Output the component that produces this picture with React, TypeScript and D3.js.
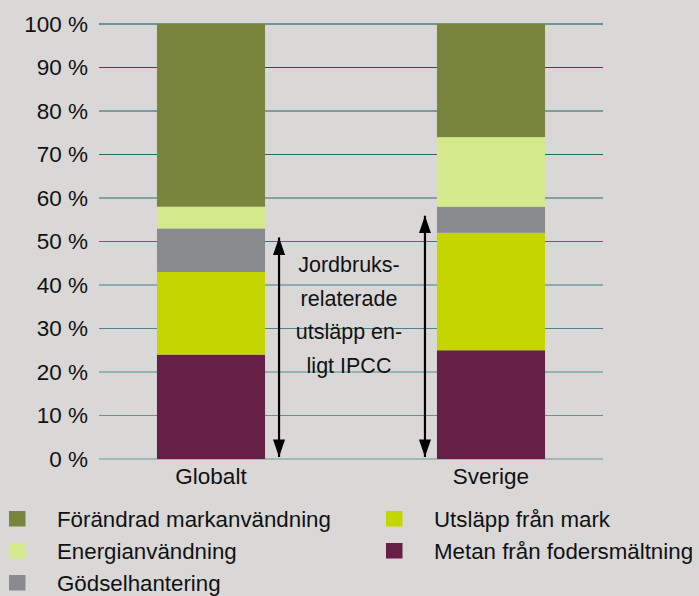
import React from "react";
import * as d3 from "d3";

const categories = ["Globalt", "Sverige"];
const seriesKeys = [
  "Metan från fodersmältning",
  "Utsläpp från mark",
  "Gödselhantering",
  "Energianvändning",
  "Förändrad markanvändning",
];
const globaltValues = [24, 19, 10, 5, 42];
const sverigeValues = [25, 27, 6, 16, 26];
const agriShare = [53, 58]; // arrow spans, IPCC-relaterade
const yTicks = [0, 10, 20, 30, 40, 50, 60, 70, 80, 90, 100];
const legendOrder = [
  "Förändrad markanvändning",
  "Energianvändning",
  "Gödselhantering",
  "Utsläpp från mark",
  "Metan från fodersmältning",
];
const noteLines = ["Jordbruks-", "relaterade", "utsläpp en-", "ligt IPCC"];

const colors: Record<string, string> = {
  "Förändrad markanvändning": "#79853c",
  Energianvändning: "#d4e88c",
  Gödselhantering: "#8a8b8e",
  "Utsläpp från mark": "#c4d500",
  "Metan från fodersmältning": "#661f45",
};

const W = 699;
const H = 596;
const font = "'Liberation Sans', Arial, Helvetica, sans-serif";

export default function App() {
  const data = categories.map((c, i) => {
    const vals = i === 0 ? globaltValues : sverigeValues;
    const row: any = { cat: c };
    seriesKeys.forEach((k, j) => (row[k] = vals[j]));
    return row;
  });
  const layers = d3.stack<any>().keys(seriesKeys)(data);

  const x = d3.scaleBand().domain(categories).range([99, 603]).paddingInner(0.614).paddingOuter(0.207);
  const y = d3.scaleLinear().domain([0, 100]).range([459, 24]);
  const gridColor = d3.interpolateRgb("#6a9a9f", "#0b4f5a");

  return (
    <div style={{ position: "absolute", left: 0, top: 0 }}>
      <svg width={W} height={H} style={{ display: "block", fontFamily: font }}>
        <rect width={W} height={H} fill="#d9d8d7" />
        {yTicks.map((t) => (
          <g key={t}>
            <line x1={99} x2={603} y1={y(t)} y2={y(t)} stroke={gridColor(t / 100)} strokeWidth={1.2} />
            <text x={88} y={y(t) + 7.5} textAnchor="end" fontSize={22.5} fill="#111">
              {t} %
            </text>
          </g>
        ))}
        {layers.map((layer) => (
          <g key={layer.key} fill={colors[layer.key]}>
            {layer.map((d: any) => (
              <rect
                key={d.data.cat}
                x={x(d.data.cat)}
                width={x.bandwidth()}
                y={y(d[1])}
                height={y(d[0]) - y(d[1])}
              />
            ))}
          </g>
        ))}
        {categories.map((c) => (
          <text key={c} x={(x(c) as number) + x.bandwidth() / 2} y={484} textAnchor="middle" fontSize={22.5} fill="#111">
            {c}
          </text>
        ))}
        <defs>
          <marker id="ah" viewBox="0 0 10 10" refX={10} refY={5} markerWidth={8} markerHeight={5.5} orient="auto-start-reverse" markerUnits="strokeWidth" preserveAspectRatio="none">
            <path d="M0,0 L10,5 L0,10 z" fill="#000" />
          </marker>
        </defs>
        {categories.map((c, i) => {
          const ax = i === 0 ? (x(c) as number) + x.bandwidth() + 14 : (x(c) as number) - 12;
          return (
            <line
              key={c}
              x1={ax}
              x2={ax}
              y1={y(agriShare[i]) + 9}
              y2={y(0) - 2}
              stroke="#000"
              strokeWidth={2.2}
              markerStart="url(#ah)"
              markerEnd="url(#ah)"
            />
          );
        })}
        {noteLines.map((l, i) => (
          <text key={l} x={349} y={272 + i * 33.7} textAnchor="middle" fontSize={21.5} fill="#111">
            {l}
          </text>
        ))}
        {legendOrder.map((k, i) => {
          const col = i < 3 ? 0 : 1;
          const row = i < 3 ? i : i - 3;
          const lx = col === 0 ? 9 : 386;
          const ly = 519 + row * 32;
          return (
            <g key={k}>
              <rect x={lx} y={ly - 8} width={16.5} height={15.5} fill={colors[k]} />
              <text x={lx + 48} y={ly + 8} fontSize={22.3} fill="#111">
                {k}
              </text>
            </g>
          );
        })}
      </svg>
    </div>
  );
}
